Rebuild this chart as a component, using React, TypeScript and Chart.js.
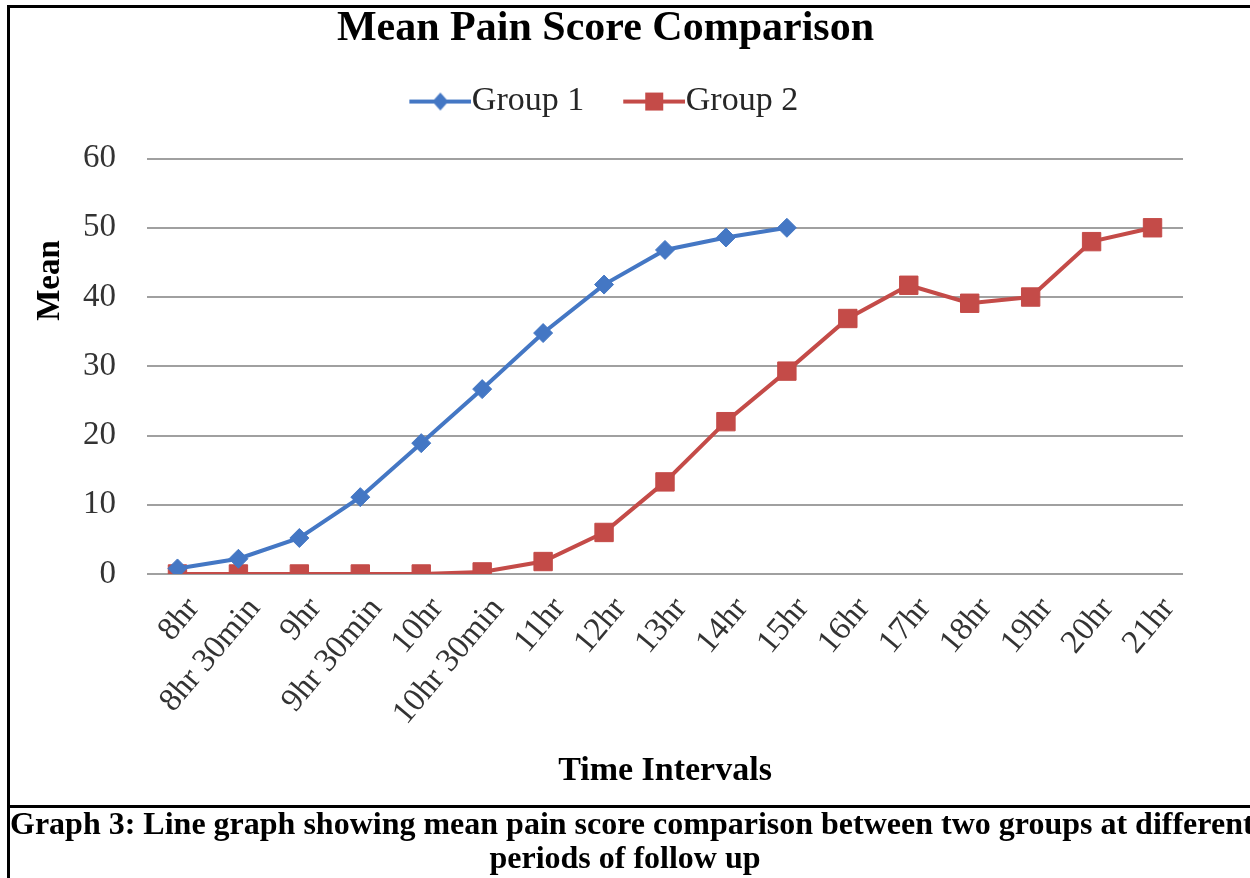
import React, { useEffect, useRef } from 'react';
import { Chart, registerables } from 'chart.js';

Chart.register(...registerables);

const CATEGORIES = ['8hr', '8hr 30min', '9hr', '9hr 30min', '10hr', '10hr 30min', '11hr', '12hr', '13hr', '14hr', '15hr', '16hr', '17hr', '18hr', '19hr', '20hr', '21hr'];
const GROUP1 = [0.8, 2.2, 5.2, 11.1, 18.9, 26.7, 34.8, 41.8, 46.8, 48.6, 50.0, null, null, null, null, null, null];
const GROUP2 = [0, 0, 0, 0, 0, 0.3, 1.8, 6.0, 13.3, 22.0, 29.3, 36.9, 41.7, 39.1, 40.0, 48.0, 50.0];
const SERIES_NAMES = ['Group 1', 'Group 2'];
const Y_MIN = 0;
const Y_MAX = 60;
const Y_STEP = 10;

const TITLE = 'Mean Pain Score Comparison';
const X_TITLE = 'Time Intervals';
const Y_TITLE = 'Mean';
const CAPTION_1 = 'Graph 3: Line graph showing mean pain score comparison between two groups at different';
const CAPTION_2 = 'periods of follow up';

const SERIF = "'Liberation Serif', 'Times New Roman', serif";
const BLUE = '#4477C4';
const RED = '#C44B48';
const GRID = '#A0A0A0';
const TICK_COLOR = '#333333';

// legend icon: a transparent margin on the left, then the visible line with its marker
function makeIcon(color: string, shape: 'diamond' | 'square'): HTMLCanvasElement {
  const c = document.createElement('canvas');
  const lead = 13;
  const len = 62;
  c.width = lead + len;
  c.height = 22;
  const g = c.getContext('2d')!;
  g.strokeStyle = color;
  g.lineWidth = 4;
  g.beginPath();
  g.moveTo(lead, 11);
  g.lineTo(lead + len, 11);
  g.stroke();
  g.fillStyle = color;
  const cx = lead + len / 2;
  if (shape === 'diamond') {
    g.beginPath();
    g.moveTo(cx, 2);
    g.lineTo(cx + 8, 11);
    g.lineTo(cx, 20);
    g.lineTo(cx - 8, 11);
    g.closePath();
    g.fill();
  } else {
    g.fillRect(cx - 9, 2, 18, 18);
  }
  return c;
}

const yTitlePlugin = {
  id: 'yTitleCustom',
  afterDraw(chart: any) {
    const { ctx, chartArea } = chart;
    ctx.save();
    ctx.translate(chartArea.left - 97, chartArea.top + 122);
    ctx.rotate(-Math.PI / 2);
    ctx.font = `bold 33px ${SERIF}`;
    ctx.fillStyle = '#000';
    ctx.textAlign = 'center';
    ctx.textBaseline = 'middle';
    ctx.fillText(Y_TITLE, 0, 0);
    ctx.restore();
  },
};

export default function App() {
  const ref = useRef<HTMLCanvasElement>(null);

  useEffect(() => {
    const canvas = ref.current;
    if (!canvas) return;
    const icons = [makeIcon(BLUE, 'diamond'), makeIcon(RED, 'square')];
    const chart = new Chart(canvas, {
      type: 'line',
      data: {
        labels: CATEGORIES,
        datasets: [
          {
            label: SERIES_NAMES[0],
            data: GROUP1,
            borderColor: BLUE,
            backgroundColor: BLUE,
            borderWidth: 4,
            pointStyle: 'rectRot',
            pointRadius: 9.5,
            pointBorderWidth: 1,
            pointBackgroundColor: BLUE,
            pointBorderColor: BLUE,
            tension: 0,
            spanGaps: false,
          },
          {
            label: SERIES_NAMES[1],
            data: GROUP2,
            borderColor: RED,
            backgroundColor: RED,
            borderWidth: 4,
            pointStyle: 'rect',
            pointRadius: 13,
            pointBorderWidth: 1,
            pointBackgroundColor: RED,
            pointBorderColor: RED,
            tension: 0,
          },
        ],
      },
      options: {
        responsive: false,
        animation: false,
        devicePixelRatio: 1,
        layout: { padding: { left: 28, right: 67, top: 0, bottom: 83 } },
        plugins: {
          title: {
            display: true,
            text: TITLE,
            color: '#000',
            font: { family: SERIF, size: 42, weight: 'bold', lineHeight: 0.62 },
            padding: { top: 16, bottom: 0 },
          },
          // invisible spacer between legend and plot area
          subtitle: {
            display: true,
            text: ' ',
            weight: 500,
            position: 'top',
            font: { family: SERIF, size: 1, lineHeight: 1 },
            padding: { top: 0, bottom: 29 },
          },
          legend: {
            display: true,
            position: 'top',
            labels: {
              usePointStyle: true,
              pointStyleWidth: 42,
              padding: 42.5,
              color: '#262626',
              font: { family: SERIF, size: 34 },
              generateLabels: (ch: any) =>
                ch.data.datasets.map((ds: any, i: number) => ({
                  text: ds.label,
                  pointStyle: icons[i],
                  fillStyle: ds.borderColor,
                  strokeStyle: ds.borderColor,
                  lineWidth: 0,
                  hidden: false,
                  datasetIndex: i,
                  fontColor: '#262626',
                })),
            },
          },
          tooltip: { enabled: false },
        },
        scales: {
          x: {
            type: 'category',
            offset: true,
            grid: { display: false, drawTicks: false },
            border: { display: false },
            ticks: {
              autoSkip: false,
              minRotation: 50,
              maxRotation: 50,
              padding: 16,
              labelOffset: 16,
              color: TICK_COLOR,
              font: { family: SERIF, size: 33 },
            },
            title: {
              display: true,
              text: X_TITLE,
              color: '#000',
              font: { family: SERIF, size: 34, weight: 'bold' },
              padding: { top: 4, bottom: 3 },
            },
            afterFit: (scale: any) => {
              scale.height = 221;
            },
          },
          y: {
            min: Y_MIN,
            max: Y_MAX,
            grid: { color: GRID, lineWidth: 2, drawTicks: false },
            border: { display: false },
            ticks: {
              stepSize: Y_STEP,
              padding: 31,
              color: TICK_COLOR,
              font: { family: SERIF, size: 33 },
            },
            afterFit: (scale: any) => {
              scale.width = 119;
            },
          },
        },
      },
      plugins: [yTitlePlugin],
    } as any);
    return () => chart.destroy();
  }, []);

  return (
    <div
      style={{
        position: 'absolute',
        left: 0,
        top: 0,
        width: 1250,
        height: 878,
        overflow: 'hidden',
        background: '#fff',
        fontFamily: SERIF,
      }}
    >
      <canvas ref={ref} width={1250} height={878} style={{ position: 'absolute', left: 0, top: 0, display: 'block' }} />
      <div style={{ position: 'absolute', left: 7, top: 5, width: 1300, height: 0, borderTop: '3px solid #000' }} />
      <div style={{ position: 'absolute', left: 7, top: 5, width: 0, height: 900, borderLeft: '3px solid #000' }} />
      <div style={{ position: 'absolute', left: 7, top: 805, width: 1300, height: 0, borderTop: '3px solid #000' }} />
      <div
        style={{
          position: 'absolute',
          left: 10,
          top: 806,
          whiteSpace: 'nowrap',
          fontWeight: 'bold',
          fontSize: 32,
          lineHeight: '35px',
          color: '#000',
        }}
      >
        {CAPTION_1}
      </div>
      <div
        style={{
          position: 'absolute',
          left: 0,
          width: 1250,
          top: 840,
          textAlign: 'center',
          whiteSpace: 'nowrap',
          fontWeight: 'bold',
          fontSize: 32,
          lineHeight: '35px',
          color: '#000',
        }}
      >
        {CAPTION_2}
      </div>
    </div>
  );
}
